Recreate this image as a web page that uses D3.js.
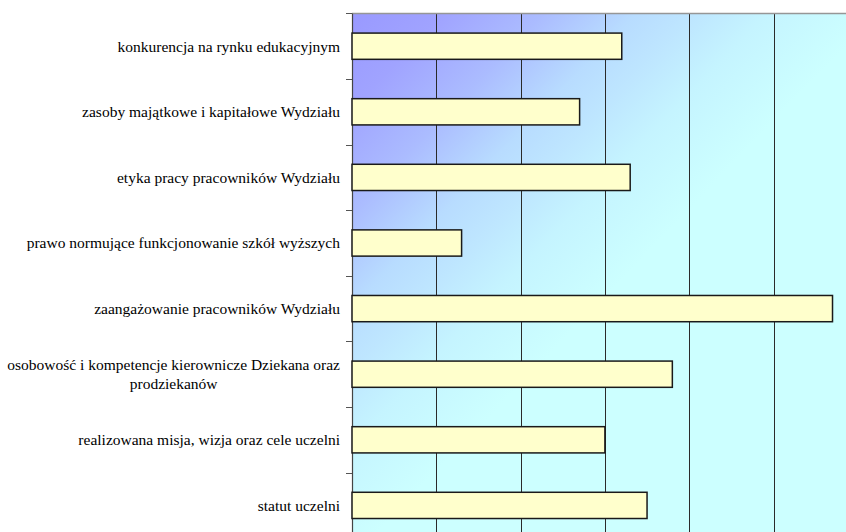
<!DOCTYPE html>
<html>
<head>
<meta charset="utf-8">
<script src="https://cdn.jsdelivr.net/npm/d3@7"></script>
<style>
  html, body { margin: 0; padding: 0; background: #ffffff; }
  svg { display: block; }
</style>
</head>
<body>
<svg id="chart" width="846" height="532"></svg>
<script>
// Categories (top to bottom) and their values
const categories = [
  "konkurencja na rynku edukacyjnym",
  "zasoby majątkowe i kapitałowe Wydziału",
  "etyka pracy pracowników Wydziału",
  "prawo normujące funkcjonowanie szkół wyższych",
  "zaangażowanie pracowników Wydziału",
  "osobowość i kompetencje kierownicze Dziekana oraz prodziekanów",
  "realizowana misja, wizja oraz cele uczelni",
  "statut uczelni"
];
// Label lines (multi-line labels are split explicitly)
const labelLines = [
  ["konkurencja na rynku edukacyjnym"],
  ["zasoby majątkowe i kapitałowe Wydziału"],
  ["etyka pracy pracowników Wydziału"],
  ["prawo normujące funkcjonowanie szkół wyższych"],
  ["zaangażowanie pracowników Wydziału"],
  ["osobowość i kompetencje kierownicze Dziekana oraz", "prodziekanów"],
  ["realizowana misja, wizja oraz cele uczelni"],
  ["statut uczelni"]
];
const values = [16, 13.5, 16.5, 6.5, 28.5, 19, 15, 17.5];
const gridTicks = [0, 5, 10, 15, 20, 25, 30];

const FONT = "Liberation Serif";
const FONT_SIZE = 15.5;

const svg = d3.select("#chart");
const plot = { left: 352, top: 13.4, right: 857.8, bottom: 538.2 };

const x = d3.scaleLinear().domain([0, 30]).range([plot.left, plot.right]);
const y = d3.scaleBand().domain(categories).range([plot.top, plot.bottom])
  .paddingInner(0.6).paddingOuter(0.3);
const yCat = d3.scaleBand().domain(categories).range([plot.top, plot.bottom]).padding(0);

// Background gradient of the plot area
const defs = svg.append("defs");
const grad = defs.append("linearGradient").attr("id", "bg")
  .attr("x1", 0).attr("y1", 0).attr("x2", 1).attr("y2", 1);
[[0, "#9999ff"], [0.09, "#a0a3ff"], [0.19, "#abbcff"], [0.28, "#b8dcff"],
 [0.34, "#bee6ff"], [0.41, "#c5f4ff"], [0.52, "#ccffff"], [1, "#ccffff"]]
  .forEach(([o, c]) => grad.append("stop").attr("offset", o).attr("stop-color", c));

svg.append("rect")
  .attr("x", plot.left).attr("y", plot.top)
  .attr("width", plot.right - plot.left).attr("height", plot.bottom - plot.top)
  .attr("fill", "url(#bg)");

// Vertical gridlines
svg.append("g").selectAll("line")
  .data(gridTicks.filter(d => d > 0))
  .join("line")
  .attr("x1", d => Math.round(x(d)) + 0.5).attr("x2", d => Math.round(x(d)) + 0.5)
  .attr("y1", plot.top).attr("y2", plot.bottom)
  .attr("stroke", "#2a2a2a").attr("stroke-width", 1);

// Top border of the plot area
svg.append("line")
  .attr("x1", plot.left).attr("x2", plot.right)
  .attr("y1", plot.top).attr("y2", plot.top)
  .attr("stroke", "#969696").attr("stroke-width", 1.5);

// Category axis with tick marks at band boundaries
const bounds = d3.range(categories.length + 1).map(i => plot.top + i * yCat.step());
svg.append("g").selectAll("line")
  .data(bounds)
  .join("line")
  .attr("x1", plot.left - 6).attr("x2", plot.left)
  .attr("y1", d => Math.round(d) + 0.5).attr("y2", d => Math.round(d) + 0.5)
  .attr("stroke", "#555").attr("stroke-width", 1);
svg.append("line")
  .attr("x1", plot.left + 0.5).attr("x2", plot.left + 0.5)
  .attr("y1", plot.top).attr("y2", plot.bottom)
  .attr("stroke", "#444").attr("stroke-width", 1.2);

// Bars
svg.append("g").selectAll("rect")
  .data(categories)
  .join("rect")
  .attr("x", x(0))
  .attr("y", d => y(d))
  .attr("width", (d, i) => x(values[i]) - x(0))
  .attr("height", y.bandwidth())
  .attr("fill", "#ffffcc")
  .attr("stroke", "#1a1a1a")
  .attr("stroke-width", 1.5);

// Category labels
const labelRight = 340;
const lg = svg.append("g");
function styled(sel) {
  return sel.attr("font-family", FONT).attr("font-size", FONT_SIZE).attr("fill", "#000");
}
categories.forEach((c, i) => {
  const lines = labelLines[i];
  const cy = yCat(c) + yCat.bandwidth() / 2;
  const lh = 19;
  const t = styled(lg.append("text"));
  if (lines.length === 1) {
    t.attr("x", labelRight).attr("y", cy).attr("dy", "0.35em")
      .attr("text-anchor", "end").text(lines[0]);
  } else {
    // measure widest line to center multi-line labels in a box ending at labelRight
    t.attr("text-anchor", "middle");
    const tmp = styled(lg.append("text")).text(lines[0]);
    const w = tmp.node().getComputedTextLength();
    tmp.remove();
    const mid = labelRight - w / 2;
    lines.forEach((ln, k) => {
      t.append("tspan").attr("x", mid)
        .attr("y", cy + (k - (lines.length - 1) / 2) * lh)
        .attr("dy", "0.35em").text(ln);
    });
  }
});
</script>
</body>
</html>
